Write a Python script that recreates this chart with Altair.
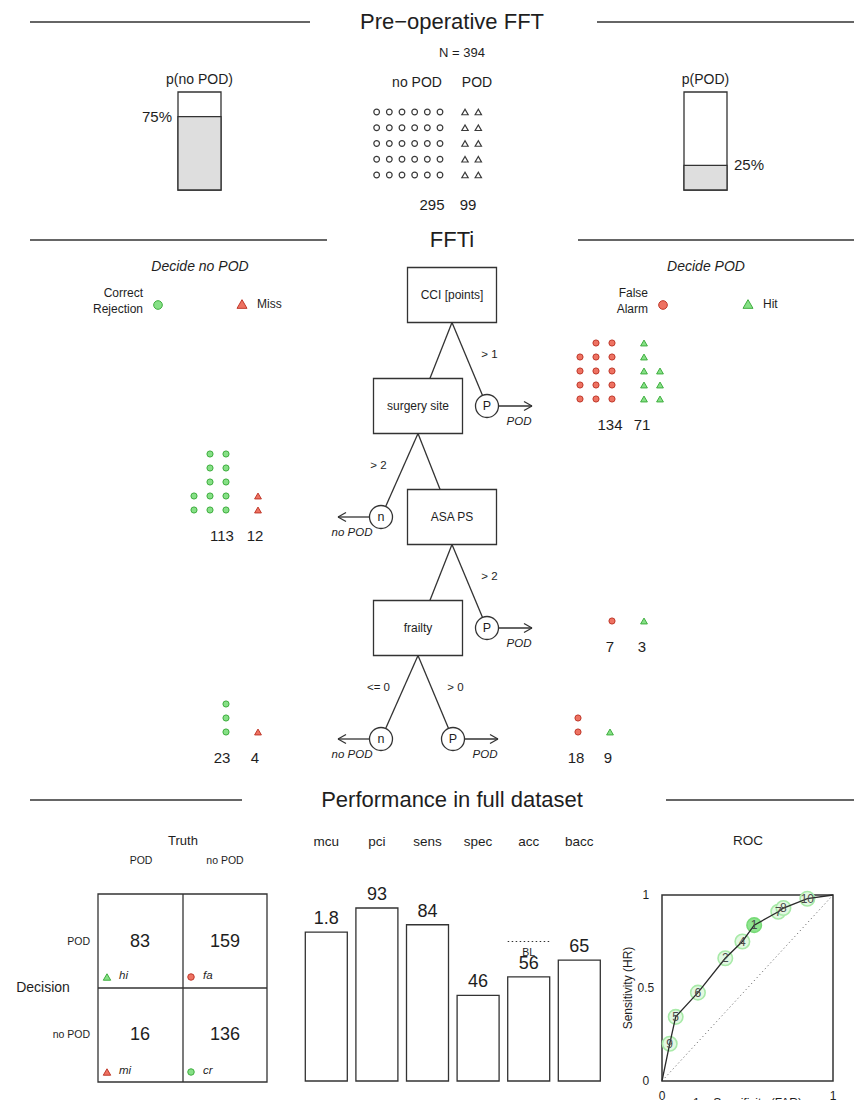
import math
import altair as alt
import pandas as pd

FONT = "Liberation Sans"
INK = "#1e1e1e"
EDGE = "#333333"
G_FILL, G_STROKE = "#86E086", "#3FAE3F"
R_FILL, R_STROKE = "#EE7262", "#C0392B"

# ---------------- values ----------------
main_title = "Pre\u2212operative FFT"
tree_title = "FFTi"
perf_title = "Performance in full dataset"
n_total = 394
class_names = ["no POD", "POD"]
class_counts = [295, 99]
cases_per_icon = 10

cue_names = ["CCI [points]", "surgery site", "ASA PS", "frailty"]
cue_exits = ["P", "n", "P", "nP"]
branch_labels = ["> 1", "> 2", "> 2", "<= 0", "> 0"]

leaf_level = [0, 1, 2, 3, 3]
leaf_exit = ["P", "n", "P", "n", "P"]
leaf_circles = [134, 113, 7, 23, 18]    # false alarms (P) / correct rejections (n)
leaf_triangles = [71, 12, 3, 4, 9]      # hits (P) / misses (n)

conf_names = ["hi", "fa", "mi", "cr"]
conf_counts = [83, 159, 16, 136]

metric_names = ["mcu", "pci", "sens", "spec", "acc", "bacc"]
metric_labels = ["1.8", "93", "84", "46", "56", "65"]
metric_heights = [80, 93, 84, 46, 56, 65]
baseline_acc = 75

roc_tree = [9, 5, 6, 2, 4, 1, 7, 8, 10]
roc_far = [0.045, 0.08, 0.21, 0.37, 0.47, 0.539, 0.68, 0.71, 0.85]
roc_hr = [0.20, 0.345, 0.475, 0.66, 0.75, 0.838, 0.91, 0.93, 0.98]
selected_tree = 1

# ---------------- canvas layout (reference page pixels) ----------------
W, H = 846, 1092
CX = alt.Scale(domain=[8, 854], range=[0, W], zero=False, nice=False)
CY = alt.Scale(domain=[8, 1100], range=[0, H], zero=False, nice=False)

texts, rules, rects, points = [], [], [], []


def txt(x, y, t, s, align="center", italic=False, angle=0, c=INK):
    texts.append(dict(x=x, y=y, t=t, s=s, align=align, it=italic, ang=angle, c=c))


def line(x, y, x2, y2, w=1.3, c=EDGE):
    rules.append(dict(x=x, y=y, x2=x2, y2=y2, w=w, c=c))


def box(x, y, x2, y2, fill="white", stroke=EDGE, w=1.3):
    rects.append(dict(x=x, y=y, x2=x2, y2=y2, f=fill, k=stroke, w=w))


def pt(x, y, shape, size, fill, stroke, w=1.0):
    points.append(dict(x=x, y=y, sh=shape, sz=size, f=fill, k=stroke, w=w))


def header(title, y, lx2, rx1):
    txt(452, y, title, 22)
    line(30, y, lx2, y, w=1.6)
    line(rx1, y, 862, y, w=1.6)


def icon_block(n, x_first, step_x, y_bottom, step_y, shape, size, fill, stroke, nrow=5, w=1.0):
    for k in range(n):
        c, r = divmod(k, nrow)
        pt(x_first + c * step_x, y_bottom - r * step_y, shape, size, fill, stroke, w)


header(main_title, 22, 310, 597)
header(tree_title, 240, 327, 578)
header(perf_title, 800, 242, 666)

# --- pre-operative section
txt(462, 53, f"N = {n_total}", 13)
txt(417, 83, class_names[0], 14)
txt(477, 83, class_names[1], 14)
icon_block(math.ceil(class_counts[0] / cases_per_icon), 440, -12.67, 175, 15.75,
           "circle", 32, "white", "#3a3a3a", w=1.2)
icon_block(math.ceil(class_counts[1] / cases_per_icon), 465, 13.3, 175, 15.75,
           "triangle-up", 40, "white", "#3a3a3a", w=1.2)
txt(432, 205, str(class_counts[0]), 15)
txt(468, 205, str(class_counts[1]), 15)

# --- tree section legend
txt(200, 267, "Decide no POD", 14, italic=True)
txt(706, 267, "Decide POD", 14, italic=True)
txt(143, 293, "Correct", 12, align="right")
txt(143, 309, "Rejection", 12, align="right")
pt(158, 305, "circle", 75, G_FILL, G_STROKE)
pt(242, 304, "triangle-up", 100, R_FILL, R_STROKE)
txt(257, 304, "Miss", 12, align="left")
txt(648, 293, "False", 12, align="right")
txt(648, 309, "Alarm", 12, align="right")
pt(663, 305, "circle", 75, R_FILL, R_STROKE)
pt(748, 304, "triangle-up", 100, G_FILL, G_STROKE)
txt(763, 304, "Hit", 12, align="left")

# --- tree
level_y0, gap = 295, 111
box_x = [452, 418, 452, 418]
BW, BH, R = 89, 55, 11.5
exit_pos = {}
lab_i = 0


def exit_node(px, pby, ex, ey, kind, label):
    dx, dy = ex - px, ey - pby
    d = math.hypot(dx, dy)
    line(px, pby, ex - dx / d * R, ey - dy / d * R)
    mx, my = (px + ex) / 2, (pby + ey) / 2
    txt(mx + (20 if kind == "P" else -21), my - 9, label, 11.5)
    pt(ex, ey, "circle", (2 * R) ** 2, "white", EDGE, 1.3)
    txt(ex, ey, kind, 12.5)
    if kind == "P":
        xe = ex + 45
        line(ex + R, ey, xe, ey)
        line(xe, ey, xe - 8, ey - 4.5)
        line(xe, ey, xe - 8, ey + 4.5)
        txt(ex + 32, ey + 16, class_names[1], 11.5, italic=True)
    else:
        xe = ex - 43
        line(ex - R, ey, xe, ey)
        line(xe, ey, xe + 8, ey - 4.5)
        line(xe, ey, xe + 8, ey + 4.5)
        txt(ex - 29, ey + 16, class_names[0], 11.5, italic=True)


for i, cue in enumerate(cue_names):
    cx, cy = box_x[i], level_y0 + i * gap
    box(cx - BW / 2, cy - BH / 2, cx + BW / 2, cy + BH / 2)
    txt(cx, cy, cue, 12)
    bottom = cy + BH / 2
    ey = cy + gap
    for kind in cue_exits[i]:
        ex = cx + 35 if kind == "P" else cx - 37
        exit_node(cx, bottom, ex, ey, kind, branch_labels[lab_i])
        exit_pos[(i, kind)] = (ex, ey)
        lab_i += 1
    if i + 1 < len(cue_names):
        nx = box_x[i + 1]
        line(cx, bottom, cx + 0.65 * (nx - cx), ey - BH / 2)

# --- leaf icon arrays
for j in range(len(leaf_level)):
    kind = leaf_exit[j]
    ex, ey = exit_pos[(leaf_level[j], kind)]
    nc = math.ceil(leaf_circles[j] / cases_per_icon)
    nt = math.ceil(leaf_triangles[j] / cases_per_icon)
    if kind == "P":
        icon_block(nc, ex + 125, -16, ey - 7, 14, "circle", 38, R_FILL, R_STROKE)
        icon_block(nt, ex + 157, 16, ey - 7, 14, "triangle-up", 46, G_FILL, G_STROKE)
        txt(ex + 123, ey + 19, str(leaf_circles[j]), 15)
        txt(ex + 155, ey + 19, str(leaf_triangles[j]), 15)
    else:
        icon_block(nc, ex - 155, -16, ey - 7, 14, "circle", 38, G_FILL, G_STROKE)
        icon_block(nt, ex - 123, 16, ey - 7, 14, "triangle-up", 46, R_FILL, R_STROKE)
        txt(ex - 159, ey + 19, str(leaf_circles[j]), 15)
        txt(ex - 126, ey + 19, str(leaf_triangles[j]), 15)

# --- confusion matrix
txt(183, 841, "Truth", 13)
txt(141, 861, class_names[1], 10.5)
txt(225, 861, class_names[0], 10.5)
box(98, 894, 267, 1082)
line(183, 894, 183, 1082)
line(98, 988, 267, 988)
txt(43, 988, "Decision", 14)
txt(90, 942, class_names[1], 10.5, align="right")
txt(90, 1035, class_names[0], 10.5, align="right")
cell_xy = [(140, 942), (225, 942), (140, 1035), (225, 1035)]
cell_icon = [("triangle-up", G_FILL, G_STROKE), ("circle", R_FILL, R_STROKE),
             ("triangle-up", R_FILL, R_STROKE), ("circle", G_FILL, G_STROKE)]
for (cx, cy), name, val, (sh, f, k) in zip(cell_xy, conf_names, conf_counts, cell_icon):
    txt(cx, cy, str(val), 18)
    ix = cx - 33 if cx < 183 else cx - 34
    pt(ix, cy + 35 if cy < 988 else cy + 37, sh, 42 if sh == "circle" else 55, f, k)
    txt(ix + 12, cy + 34 if cy < 988 else cy + 36, name, 11.5, align="left", italic=True)

# --- ROC title
txt(748, 841, "ROC", 13.5)


def X(f="x"):
    return alt.X(f, type="quantitative", scale=CX, axis=None)


def Y(f="y"):
    return alt.Y(f, type="quantitative", scale=CY, axis=None)


rect_layer = alt.Chart(pd.DataFrame(rects)).mark_rect().encode(
    x=X(), x2="x2", y=Y(), y2="y2",
    fill=alt.Fill("f:N", scale=None), stroke=alt.Stroke("k:N", scale=None),
    strokeWidth=alt.StrokeWidth("w:Q", scale=None))

rule_layer = alt.Chart(pd.DataFrame(rules)).mark_rule().encode(
    x=X(), x2="x2", y=Y(), y2="y2",
    color=alt.Color("c:N", scale=None), strokeWidth=alt.StrokeWidth("w:Q", scale=None))

point_layer = alt.Chart(pd.DataFrame(points)).mark_point(filled=True, opacity=1).encode(
    x=X(), y=Y(),
    shape=alt.Shape("sh:N", scale=None), size=alt.Size("sz:Q", scale=None),
    fill=alt.Fill("f:N", scale=None), stroke=alt.Stroke("k:N", scale=None),
    strokeWidth=alt.StrokeWidth("w:Q", scale=None))

tdf = pd.DataFrame(texts)
text_layers = []
for (al, it, ang), g in tdf.groupby(["align", "it", "ang"]):
    text_layers.append(
        alt.Chart(g[["x", "y", "t", "s", "c"]]).mark_text(
            align=al, baseline="middle", font=FONT,
            fontStyle="italic" if it else "normal", angle=int(ang)
        ).encode(x=X(), y=Y(), text="t:N",
                 size=alt.Size("s:Q", scale=None), color=alt.Color("c:N", scale=None)))

canvas = alt.layer(rect_layer, rule_layer, point_layer, *text_layers)

# --- class probability boxes (own scale: 0..1 proportion)
PY = alt.Scale(domain=[0, 1], range=[190 - 8, 92 - 8], zero=False, nice=False)
pdf = pd.DataFrame({
    "name": [f"p({c})" for c in class_names],
    "p": [c / n_total for c in class_counts],
    "x0": [178, 684], "x1": [221, 727],
})
pdf["lab"] = [f"{round(p * 100)}%" for p in pdf["p"]]
pdf["xm"] = (pdf["x0"] + pdf["x1"]) / 2
pdf["zero"], pdf["one"] = 0.0, 1.0
pdf["lx"] = [pdf["x0"][0] - 6, pdf["x1"][1] + 7]
pb = alt.Chart(pdf)
pY = lambda f: alt.Y(f, type="quantitative", scale=PY, axis=None)
pbox = alt.layer(
    pb.mark_rect(fill="white", stroke=EDGE, strokeWidth=1.3).encode(
        x=X("x0"), x2="x1", y=pY("zero"), y2="one"),
    pb.mark_rect(fill="#DEDEDE", stroke=EDGE, strokeWidth=1.3).encode(
        x=X("x0"), x2="x1", y=pY("zero"), y2="p"),
    pb.mark_text(font=FONT, fontSize=14, color=INK, dy=-12).encode(
        x=X("xm"), y=pY("one"), text="name:N"),
    pb.transform_filter("datum.x0 < 400").mark_text(
        font=FONT, fontSize=15, color=INK, align="right").encode(
        x=X("lx"), y=pY("p"), text="lab:N"),
    pb.transform_filter("datum.x0 > 400").mark_text(
        font=FONT, fontSize=15, color=INK, align="left").encode(
        x=X("lx"), y=pY("p"), text="lab:N"),
)

# --- performance bars (own scale: percent)
BXs = alt.Scale(domain=[0, 5], range=[326.3 - 8, 579.3 - 8], zero=False, nice=False)
BYs = alt.Scale(domain=[0, 100], range=[1081 - 8, 895 - 8], zero=False, nice=False)
bdf = pd.DataFrame({"metric": metric_names, "lab": metric_labels, "h": metric_heights})
bdf["i"] = range(len(bdf))
bdf["lo"], bdf["hi"], bdf["base"] = bdf["i"] - 0.415, bdf["i"] + 0.415, 0
bx = lambda f: alt.X(f, type="quantitative", scale=BXs, axis=None)
by = lambda f: alt.Y(f, type="quantitative", scale=BYs, axis=None)
acc_i = metric_names.index("acc")
bl = pd.DataFrame({"lo": [acc_i - 0.415], "hi": [acc_i + 0.415], "i": [acc_i],
                   "v": [baseline_acc], "t": ["BL"]})
bc = alt.Chart(bdf)
bars = alt.layer(
    bc.mark_rect(fill="white", stroke=EDGE, strokeWidth=1.3).encode(
        x=bx("lo"), x2="hi", y=by("base"), y2="h"),
    bc.mark_text(font=FONT, fontSize=18, color=INK, dy=-13).encode(
        x=bx("i"), y=by("h"), text="lab:N"),
    bc.mark_text(font=FONT, fontSize=13.5, color=INK).encode(
        x=bx("i"), y=alt.value(842 - 8), text="metric:N"),
    alt.Chart(bl).mark_rule(color=EDGE, strokeWidth=1, strokeDash=[1.5, 2.5]).encode(
        x=bx("lo"), x2="hi", y=by("v")),
    alt.Chart(bl).mark_text(font=FONT, fontSize=10.5, color=INK, dy=11).encode(
        x=bx("i"), y=by("v"), text="t:N"),
)

# --- ROC (own scale: rates)
RXs = alt.Scale(domain=[0, 1], range=[662 - 8, 833 - 8], zero=False, nice=False)
RYs = alt.Scale(domain=[0, 1], range=[1081 - 8, 895 - 8], zero=False, nice=False)
rx = lambda f: alt.X(f, type="quantitative", scale=RXs, axis=None)
ry = lambda f: alt.Y(f, type="quantitative", scale=RYs, axis=None)
rdf = pd.DataFrame({"tree": roc_tree, "far": roc_far, "hr": roc_hr})
rdf["sel"] = rdf["tree"] == selected_tree
path = pd.concat([pd.DataFrame({"far": [0.0], "hr": [0.0]}),
                  rdf[["far", "hr"]].sort_values("far"),
                  pd.DataFrame({"far": [1.0], "hr": [1.0]})], ignore_index=True)
path["o"] = range(len(path))
frame = pd.DataFrame({"a": [0.0], "b": [1.0]})
ticks_y = pd.DataFrame({"v": [0, 0.5, 1], "t": ["0", "0.5", "1"], "p": [-0.094] * 3})
ticks_x = pd.DataFrame({"v": [0, 1], "t": ["0", "1"], "p": [-0.08] * 2})
titles = pd.DataFrame({"x": [-0.2, 0.5], "y": [0.5, -0.118],
                       "t": ["Sensitivity (HR)", "1 \u2212 Specificity (FAR)"], "a": [270, 0]})
rc = alt.Chart(rdf)
roc = alt.layer(
    alt.Chart(frame).mark_rect(fill="white", stroke=EDGE, strokeWidth=1.5).encode(
        x=rx("a"), x2="b", y=ry("a"), y2="b"),
    alt.Chart(frame).mark_rule(color="#555555", strokeWidth=1, strokeDash=[1, 3]).encode(
        x=rx("a"), x2="b", y=ry("a"), y2="b"),
    rc.transform_filter("!datum.sel").mark_point(
        filled=True, opacity=1, size=210, fill="#E2F8E2", stroke="#A8EAA8", strokeWidth=1.6
    ).encode(x=rx("far"), y=ry("hr")),
    rc.transform_filter("datum.sel").mark_point(
        filled=True, opacity=1, size=210, fill="#8FE48F", stroke="#76DA76", strokeWidth=1.6
    ).encode(x=rx("far"), y=ry("hr")),
    alt.Chart(path).mark_line(color="#2a2a2a", strokeWidth=1.3).encode(
        x=rx("far"), y=ry("hr"), order="o:Q"),
    rc.mark_text(font=FONT, fontSize=12, color="#4a4a4a").encode(
        x=rx("far"), y=ry("hr"), text="tree:N"),
    alt.Chart(ticks_y).mark_text(font=FONT, fontSize=12, color=INK).encode(
        x=rx("p"), y=ry("v"), text="t:N"),
    alt.Chart(ticks_x).mark_text(font=FONT, fontSize=12, color=INK).encode(
        x=rx("v"), y=ry("p"), text="t:N"),
    alt.Chart(titles[titles.a == 270]).mark_text(font=FONT, fontSize=12, color=INK, angle=270).encode(
        x=rx("x"), y=ry("y"), text="t:N"),
    alt.Chart(titles[titles.a == 0]).mark_text(font=FONT, fontSize=12, color=INK).encode(
        x=rx("x"), y=ry("y"), text="t:N"),
)

chart = alt.layer(canvas, pbox, bars, roc).resolve_scale(
    x="independent", y="independent"
).properties(
    width=W, height=H, padding=0, autosize="none", background="white"
).configure_view(strokeWidth=0)

chart.save("out.html", embed_options={"renderer": "svg", "actions": False})
